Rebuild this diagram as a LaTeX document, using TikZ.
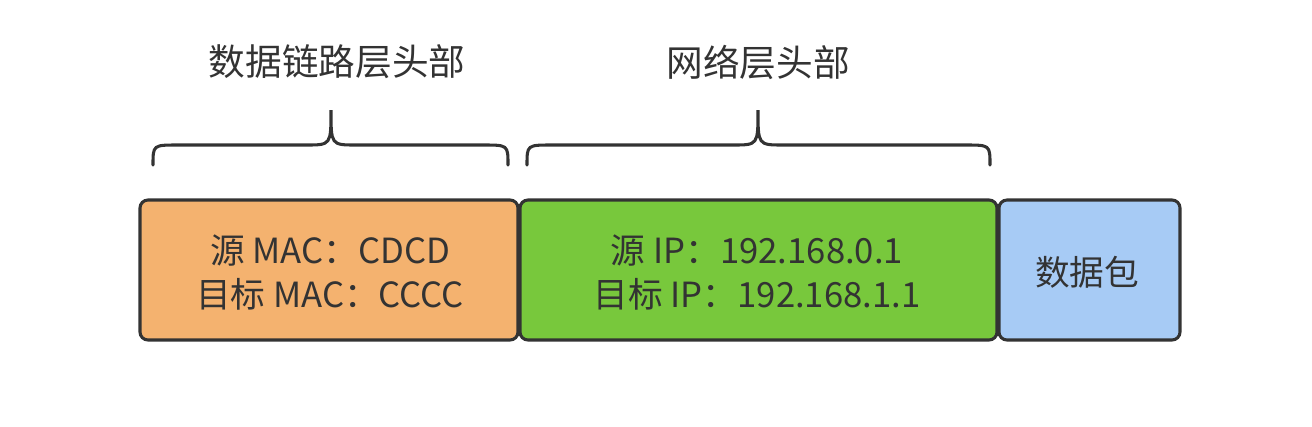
\documentclass[tikz,border=0pt]{standalone}
\usepackage{fontspec}
\setmainfont{Noto Sans CJK SC}
\begin{document}
\begin{tikzpicture}[x=0.75pt,y=-0.75pt]
\definecolor{org}{HTML}{F4B26F}
\definecolor{grn}{HTML}{78C83C}
\definecolor{blu}{HTML}{A7CBF5}
\definecolor{edge}{HTML}{333333}
\tikzset{field/.style={draw=edge,line width=2.3pt,rounded corners=6pt},
 lbl/.style={font=\fontsize{26}{33}\selectfont,align=center,inner sep=0pt,text=edge},
 brc/.style={draw=edge,line width=2.3pt,line cap=round},
 ttl/.style={font=\fontsize{27.5}{32}\selectfont,text=edge}}
\useasboundingbox (0,0) rectangle (1312,426);
\draw[field,fill=org] (140,200) rectangle (518,340);
\draw[field,fill=grn] (520,200) rectangle (997,340);
\draw[field,fill=blu] (999,200) rectangle (1180,340);
\node[lbl] (mac) at (330,272) {源 MAC：CDCD\\目标 MAC：CCCC};
\node[lbl] (ip) at (757,272) {源 IP：192.168.0.1\\目标 IP：192.168.1.1};
\node[lbl] (data) at (1087,272) {数据包};
\coordinate (b1) at (331,110);
\coordinate (b2) at (758,110);
\draw[brc] (153,165) .. controls (153,145) .. (178,145) -- (306,145) .. controls (331,145) .. (b1) .. controls (331,145) .. (356,145) -- (483,145) .. controls (508,145) .. (508,165);
\draw[brc] (527,165) .. controls (527,145) .. (552,145) -- (733,145) .. controls (758,145) .. (b2) .. controls (758,145) .. (783,145) -- (965,145) .. controls (990,145) .. (990,165);
\node[ttl] (t1) at (337,62) {数据链路层头部};
\node[ttl] (t2) at (758,62) {网络层头部};
\end{tikzpicture}
\end{document}
